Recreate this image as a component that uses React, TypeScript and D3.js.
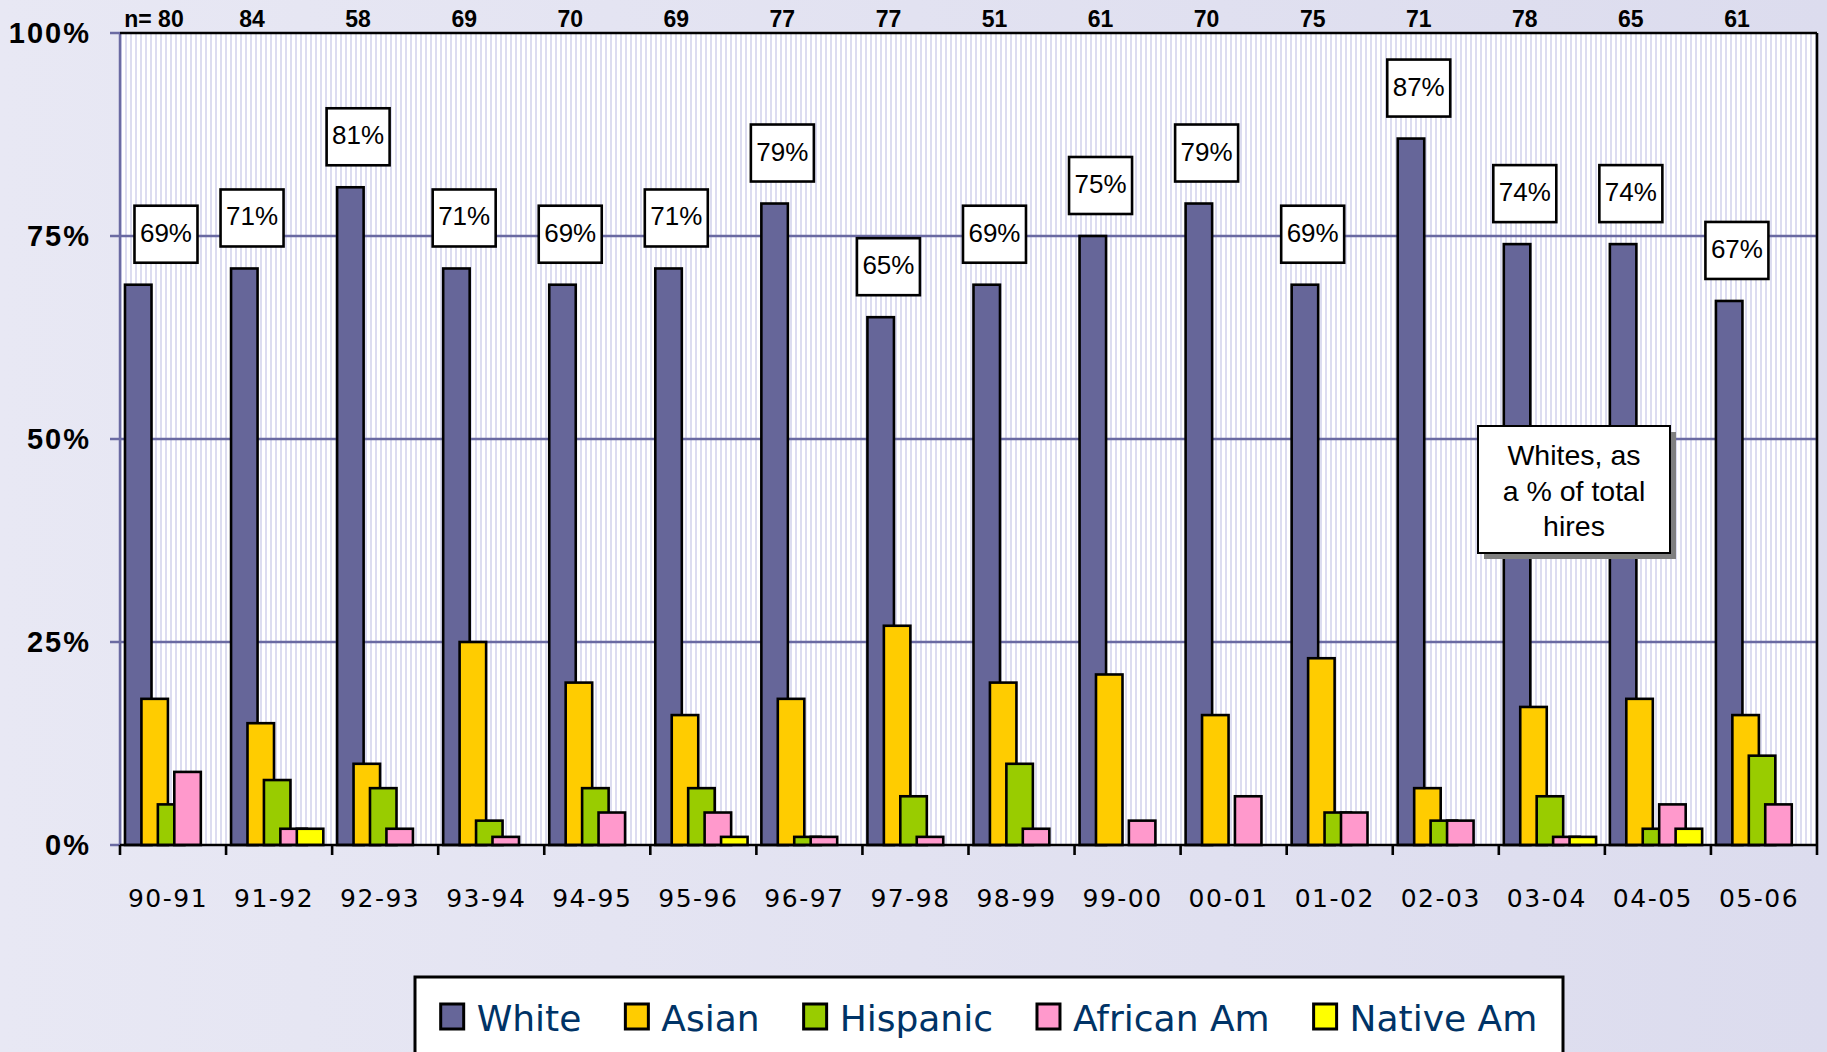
import React, { useMemo } from "react";
import * as d3 from "d3";

const categories = ["90-91", "91-92", "92-93", "93-94", "94-95", "95-96", "96-97", "97-98", "98-99", "99-00", "00-01", "01-02", "02-03", "03-04", "04-05", "05-06"];
const nValues = [80, 84, 58, 69, 70, 69, 77, 77, 51, 61, 70, 75, 71, 78, 65, 61];
const white = [69, 71, 81, 71, 69, 71, 79, 65, 69, 75, 79, 69, 87, 74, 74, 67];
const asian = [18, 15, 10, 25, 20, 16, 18, 27, 20, 21, 16, 23, 7, 17, 18, 16];
const hispanic = [5, 8, 7, 3, 7, 7, 1, 6, 10, 0, 0, 4, 3, 6, 2, 11];
const africanAm = [9, 2, 2, 1, 4, 4, 1, 1, 2, 3, 6, 4, 3, 1, 5, 5];
const nativeAm = [0, 2, 0, 0, 0, 1, 0, 0, 0, 0, 0, 0, 0, 1, 2, 0];
const seriesNames = ["White", "Asian", "Hispanic", "African Am", "Native Am"];
const seriesColors = ["#666699", "#FFCC00", "#99CC00", "#FF99CC", "#FFFF00"];
const yTicks = [0, 25, 50, 75, 100];
const noteLines = ["Whites, as", "a % of total", "hires"];

const W = 1827;
const H = 1052;
const plot = { left: 120, right: 1817, top: 33, bottom: 845 };

export default function App() {
  const series = [white, asian, hispanic, africanAm, nativeAm];
  const x = d3.scaleBand<string>().domain(categories).range([plot.left, plot.right]).paddingInner(0).paddingOuter(0);
  const y = d3.scaleLinear().domain([0, 100]).range([plot.bottom, plot.top]);
  const bw = x.bandwidth();
  const barW = bw * 0.25;
  const step = bw * 0.155;
  const groupOffset = bw * 0.047;
  const labelShift = -bw * 0.255;

  const legendLayout = useMemo(() => {
    const canvas = document.createElement("canvas");
    const ctx = canvas.getContext("2d");
    const font = "36px 'DejaVu Sans'";
    if (ctx) ctx.font = font;
    const widths = seriesNames.map((s) => (ctx ? ctx.measureText(s).width : s.length * 20));
    const sw = 24, gap1 = 12, gap2 = 44;
    const total = widths.reduce((a, b) => a + b, 0) + seriesNames.length * (sw + gap1) + (seriesNames.length - 1) * gap2;
    const boxL = 415, boxR = 1563;
    let cx = (boxL + boxR) / 2 - total / 2;
    return widths.map((w) => {
      const item = { sx: cx, tx: cx + sw + gap1 };
      cx += sw + gap1 + w + gap2;
      return item;
    });
  }, []);

  return (
    <svg width={W} height={H} style={{ position: "absolute", left: 0, top: 0, display: "block" }} xmlns="http://www.w3.org/2000/svg">
      <defs>
        <linearGradient id="bg" x1="0" y1="0" x2="1" y2="0">
          <stop offset="0" stopColor="#e8e8f4" />
          <stop offset="1" stopColor="#dcdcee" />
        </linearGradient>
        <pattern id="stripes" width="5" height="10" patternUnits="userSpaceOnUse">
          <rect x="0" y="0" width="5" height="10" fill="#ffffff" />
          <rect x="0" y="0" width="2" height="10" fill="#dcdcf0" />
        </pattern>
      </defs>
      <rect x={0} y={0} width={W} height={H} fill="url(#bg)" />
      <rect x={plot.left} y={plot.top} width={plot.right - plot.left} height={plot.bottom - plot.top} fill="url(#stripes)" />

      {/* gridlines */}
      {yTicks.filter((t) => t > 0 && t < 100).map((t) => (
        <line key={"g" + t} x1={plot.left} x2={plot.right} y1={y(t)} y2={y(t)} stroke="#6a6aa2" strokeWidth={2.5} />
      ))}
      {/* y ticks */}
      {yTicks.map((t) => (
        <line key={"yt" + t} x1={plot.left - 10} x2={plot.left} y1={y(t)} y2={y(t)} stroke="#6a6aa2" strokeWidth={2.5} />
      ))}
      {/* y labels */}
      {yTicks.map((t) => (
        <text key={"yl" + t} x={91} y={y(t) + 10} textAnchor="end" fontFamily="'Liberation Sans', Arial, sans-serif" fontWeight="bold" fontSize={29} letterSpacing={2} fill="#000">
          {t + "%"}
        </text>
      ))}

      {/* bars */}
      {series.map((vals, si) => (
        <g key={"s" + si}>
          {vals.map((v, ci) =>
            v > 0 ? (
              <rect
                key={ci}
                x={(x(categories[ci]) as number) + groupOffset + si * step}
                y={y(v)}
                width={barW}
                height={y(0) - y(v)}
                fill={seriesColors[si]}
                stroke="#000"
                strokeWidth={2.6}
              />
            ) : null
          )}
        </g>
      ))}

      {/* frame */}
      <line x1={plot.left} x2={plot.left} y1={plot.top} y2={plot.bottom} stroke="#6a6aa2" strokeWidth={2.5} />
      <line x1={plot.left} x2={plot.right} y1={plot.top} y2={plot.top} stroke="#000" strokeWidth={2.6} />
      <line x1={plot.right} x2={plot.right} y1={plot.top} y2={plot.bottom} stroke="#000" strokeWidth={2.6} />
      <line x1={plot.left} x2={plot.right + 1} y1={plot.bottom} y2={plot.bottom} stroke="#000" strokeWidth={2.6} />
      {categories.map((c) => (
        <line key={"xt" + c} x1={x(c) as number} x2={x(c) as number} y1={plot.bottom} y2={plot.bottom + 10} stroke="#000" strokeWidth={2.6} />
      ))}
      <line x1={plot.right} x2={plot.right} y1={plot.bottom} y2={plot.bottom + 10} stroke="#000" strokeWidth={2.6} />

      {/* x labels */}
      {categories.map((c) => (
        <text key={"xl" + c} x={(x(c) as number) + bw / 2 - 5} y={907} textAnchor="middle" fontFamily="'DejaVu Sans', Verdana, sans-serif" fontSize={25} letterSpacing={1.5} fill="#000">
          {c}
        </text>
      ))}

      {/* n labels */}
      {categories.map((c, i) => (
        <text key={"n" + c} x={(x(c) as number) + bw / 2 + labelShift + (i === 0 ? 8 : 0)} y={27} textAnchor="middle" fontFamily="'Liberation Sans', Arial, sans-serif" fontWeight="bold" fontSize={23} fill="#000">
          {(i === 0 ? "n= " : "") + nValues[i]}
        </text>
      ))}

      {/* value boxes for White */}
      {categories.map((c, i) => {
        const cx = (x(c) as number) + bw / 2 + labelShift + (i === 0 ? 20 : 0);
        const bottom = y(white[i]) - 22;
        const bh = 57;
        const bwid = 63;
        return (
          <g key={"vb" + c}>
            <rect x={cx - bwid / 2} y={bottom - bh} width={bwid} height={bh} fill="#fff" stroke="#000" strokeWidth={2.6} />
            <text x={cx} y={bottom - bh + 36} textAnchor="middle" fontFamily="'Liberation Sans', Arial, sans-serif" fontSize={26} fill="#000">
              {white[i] + "%"}
            </text>
          </g>
        );
      })}

      {/* annotation */}
      <rect x={1484} y={432} width={192} height={127} fill="#808080" />
      <rect x={1478} y={426} width={192} height={127} fill="#fff" stroke="#000" strokeWidth={2} />
      {noteLines.map((l, i) => (
        <text key={"note" + i} x={1574} y={465 + i * 35.5} textAnchor="middle" fontFamily="'Liberation Sans', Arial, sans-serif" fontSize={28.5} fill="#000">
          {l}
        </text>
      ))}

      {/* legend */}
      <rect x={415} y={977} width={1148} height={100} fill="#fff" stroke="#000" strokeWidth={3} />
      {seriesNames.map((s, i) => (
        <g key={"lg" + s}>
          <rect x={legendLayout[i].sx} y={1004} width={23} height={25} fill={seriesColors[i]} stroke="#000" strokeWidth={3} />
          <text x={legendLayout[i].tx} y={1031} fontFamily="'DejaVu Sans', Verdana, sans-serif" fontSize={36} fill="#003366">
            {s}
          </text>
        </g>
      ))}
    </svg>
  );
}
